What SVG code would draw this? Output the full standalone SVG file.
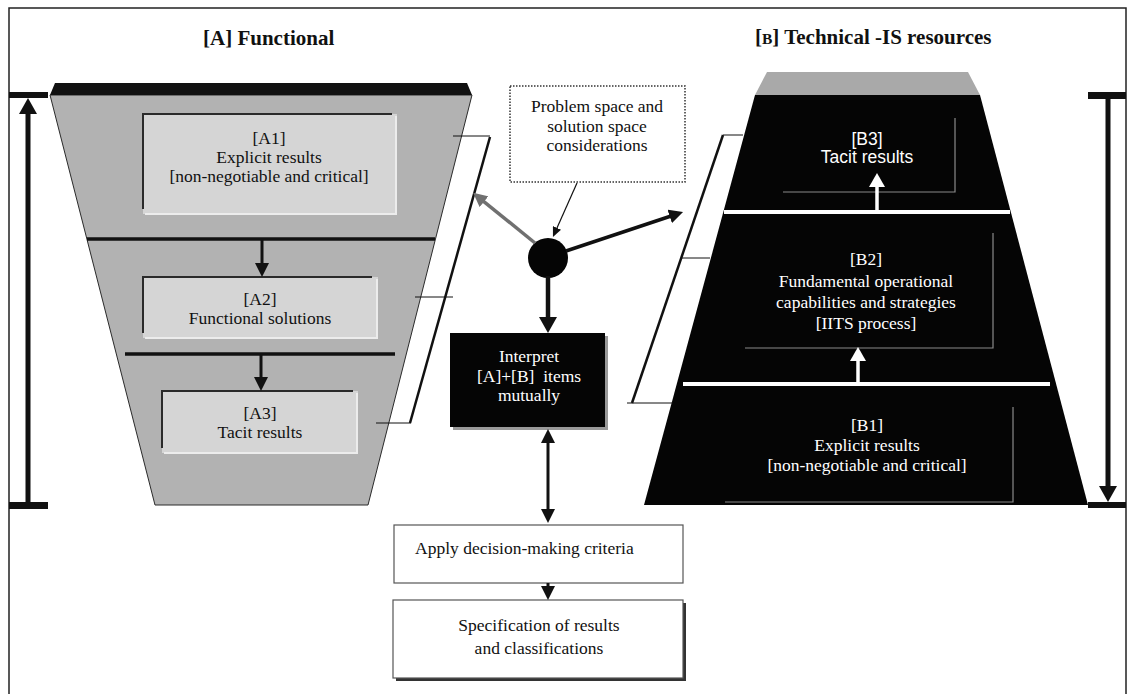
<svg xmlns="http://www.w3.org/2000/svg" width="1128" height="694" viewBox="0 0 1128 694">
  <style>
    .serif { font-family: "Liberation Serif", "Times New Roman", serif; font-size: 17.5px; fill: #111; }
    .sans { font-family: "Liberation Sans", Arial, sans-serif; font-size: 17.5px; }
    .title { font-family: "Liberation Serif", "Times New Roman", serif; font-size: 21px; font-weight: bold; fill: #111; }
    .white { fill: #fff; }
    .mid { text-anchor: middle; }
    .funnel { fill: #b2b2b2; stroke: #2a2a2a; stroke-width: 1; }
    .abox { fill: #d5d5d5; }
    .edgeDark { fill: none; stroke: #2a2a2a; stroke-width: 2; }
    .edgeLight { fill: none; stroke: #ececec; stroke-width: 2; }
    .bline { fill: none; stroke: #8a8a8a; stroke-width: 1.2; }
    .sep { stroke: #111; stroke-width: 3.5; }
    .wsep { stroke: #fff; stroke-width: 4; }
    .tick { stroke: #111; stroke-width: 1; }
    .diag { stroke: #111; stroke-width: 2.5; }
    .bar { fill: #111; }
    .conn { fill: none; stroke: #111; }
  </style>
  <defs>
    <marker id="ahL" viewBox="0 0 16 18" refX="4" refY="9" markerWidth="16" markerHeight="18" markerUnits="userSpaceOnUse" orient="auto">
      <path d="M0,0 L16,9 L0,18 z" fill="#111"/>
    </marker>
    <marker id="ah" viewBox="0 0 14 14" refX="3" refY="7" markerWidth="14" markerHeight="14" markerUnits="userSpaceOnUse" orient="auto-start-reverse">
      <path d="M0,0 L14,7 L0,14 z" fill="#111"/>
    </marker>
    <marker id="ahG" viewBox="0 0 14 14" refX="3" refY="7" markerWidth="14" markerHeight="14" markerUnits="userSpaceOnUse" orient="auto">
      <path d="M0,0 L14,7 L0,14 z" fill="#707070"/>
    </marker>
    <marker id="ahW" viewBox="0 0 14 16" refX="3" refY="8" markerWidth="14" markerHeight="16" markerUnits="userSpaceOnUse" orient="auto">
      <path d="M0,0 L14,8 L0,16 z" fill="#fff"/>
    </marker>
    <marker id="ahS" viewBox="0 0 10 9" refX="2" refY="4.5" markerWidth="10" markerHeight="9" markerUnits="userSpaceOnUse" orient="auto">
      <path d="M0,0 L10,4.5 L0,9 z" fill="#111"/>
    </marker>
  </defs>

  <rect width="1128" height="694" fill="#fff"/>
  <!-- outer frame -->
  <path d="M9,694 V8 H1126 V694" fill="none" stroke="#222" stroke-width="1.5"/>

  <!-- column titles -->
  <text class="title" x="203" y="45">[A] Functional</text>
  <text class="title" x="755" y="44">[<tspan font-size="15.5">B</tspan>] Technical -IS resources</text>

  <!-- [A] functional funnel -->
  <g id="funnelA">
    <polygon class="funnel" points="50,95 472,95 368,505 155,505"/>
    <polygon points="55,83 467,83 472,95 50,95" fill="#111"/>
    <line class="sep" x1="87" y1="239" x2="435" y2="239"/>
    <line class="sep" x1="125" y1="354" x2="395" y2="354"/>
  </g>

  <g id="A1">
    <rect class="abox" x="143" y="114" width="254" height="100"/>
    <path class="edgeLight" d="M396,116 V214 H145"/>
    <path class="edgeDark" d="M143,209 V114 H392"/>
    <text class="serif mid" x="269" y="144">[A1]</text>
    <text class="serif mid" x="269" y="163">Explicit results</text>
    <text class="serif mid" x="269" y="182">[non-negotiable and critical]</text>
  </g>
  <g id="A2">
    <rect class="abox" x="143" y="277" width="235" height="61"/>
    <path class="edgeLight" d="M377,279 V338 H145"/>
    <path class="edgeDark" d="M143,333 V277 H372"/>
    <text class="serif mid" x="260" y="305">[A2]</text>
    <text class="serif mid" x="260" y="324">Functional solutions</text>
  </g>
  <g id="A3">
    <rect class="abox" x="162" y="391" width="196" height="62"/>
    <path class="edgeLight" d="M357,393 V453 H164"/>
    <path class="edgeDark" d="M162,448 V391 H353"/>
    <text class="serif mid" x="260" y="419">[A3]</text>
    <text class="serif mid" x="260" y="438">Tacit results</text>
  </g>

  <!-- [B] technical pyramid -->
  <g id="pyramidB">
    <polygon points="767,72 968,72 980,95 755,95" fill="#a9a9a9"/>
    <polygon points="755,95 980,95 1088,505 644,505" fill="#050505"/>
    <line class="wsep" x1="724" y1="212" x2="1010" y2="212"/>
    <line class="wsep" x1="683" y1="384" x2="1050" y2="384"/>
  </g>

  <g id="B3">
    <path class="bline" d="M955,118 V192 H783"/>
    <text class="sans white mid" x="867" y="145">[B3]</text>
    <text class="sans white mid" x="867" y="163">Tacit results</text>
  </g>
  <g id="B2">
    <path class="bline" d="M993,233 V348 H745"/>
    <text class="serif white mid" x="866" y="265">[B2]</text>
    <text class="serif white mid" x="866" y="287">Fundamental operational</text>
    <text class="serif white mid" x="866" y="308">capabilities and strategies</text>
    <text class="serif white mid" x="866" y="329">[IITS process]</text>
  </g>
  <g id="B1">
    <path class="bline" d="M1013,407 V502 H725"/>
    <text class="serif white mid" x="867" y="431">[B1]</text>
    <text class="serif white mid" x="867" y="451">Explicit results</text>
    <text class="serif white mid" x="867" y="471">[non-negotiable and critical]</text>
  </g>

  <!-- scope brackets beside each stack -->
  <g id="bracketA">
    <line class="tick" x1="453" y1="136" x2="490" y2="136"/>
    <line class="tick" x1="415" y1="297" x2="453" y2="297"/>
    <line class="tick" x1="376" y1="423" x2="411" y2="423"/>
    <line class="diag" x1="490" y1="137" x2="410" y2="423"/>
  </g>
  <g id="bracketB">
    <line class="tick" x1="723" y1="135" x2="743" y2="135"/>
    <line class="tick" x1="681" y1="258" x2="710" y2="258"/>
    <line class="tick" x1="627" y1="403" x2="673" y2="403"/>
    <line class="diag" x1="723" y1="135" x2="632" y2="403"/>
  </g>

  <!-- range bars on both sides -->
  <g id="rangeA">
    <rect class="bar" x="9" y="92" width="39" height="6"/>
    <rect class="bar" x="9" y="502" width="39" height="7"/>
  </g>
  <g id="rangeB">
    <rect class="bar" x="1088" y="92" width="38" height="7"/>
    <rect class="bar" x="1088" y="502" width="38" height="6"/>
  </g>

  <g id="considerations">
    <rect x="510" y="86" width="175" height="96" fill="#fff" stroke="#333" stroke-width="1.5" stroke-dasharray="1.5 1.5"/>
    <text class="serif mid" x="597" y="112">Problem space and</text>
    <text class="serif mid" x="597" y="132">solution space</text>
    <text class="serif mid" x="597" y="151">considerations</text>
  </g>

  <g id="hub">
    <circle cx="548" cy="258" r="20" fill="#050505"/>
  </g>

  <g id="interpret">
    <rect x="453" y="336" width="155" height="94" fill="#9a9a9a"/>
    <rect x="450" y="333" width="155" height="94" fill="#050505"/>
    <text class="serif white mid" x="529" y="362">Interpret</text>
    <text class="serif white mid" x="529" y="382" xml:space="preserve">[A]+[B]  items</text>
    <text class="serif white mid" x="529" y="401">mutually</text>
  </g>

  <g id="apply">
    <rect x="394" y="525" width="289" height="58" fill="#fff" stroke="#555" stroke-width="1.2"/>
    <text class="serif" x="415" y="554">Apply decision-making criteria</text>
  </g>

  <g id="specification">
    <rect x="396" y="603" width="290" height="78" fill="#333"/>
    <rect x="393" y="600" width="290" height="78" fill="#fff" stroke="#555" stroke-width="1.2"/>
    <text class="serif mid" x="539" y="631">Specification of results</text>
    <text class="serif mid" x="539" y="654">and classifications</text>
  </g>

  <!-- connectors -->
  <g id="connectors">
    <line class="conn" x1="28" y1="502" x2="28" y2="110" stroke-width="5" marker-end="url(#ahL)"/>
    <line class="conn" x1="1108" y1="98" x2="1108" y2="490" stroke-width="5" marker-end="url(#ahL)"/>
    <line class="conn" x1="262" y1="240" x2="262" y2="266" stroke-width="3" marker-end="url(#ah)"/>
    <line class="conn" x1="261" y1="355" x2="261" y2="380" stroke-width="3" marker-end="url(#ah)"/>
    <line class="conn" x1="548" y1="276" x2="548" y2="321" stroke-width="4.5" marker-end="url(#ahL)"/>
    <line class="conn" x1="566" y1="251" x2="672.6" y2="215.5" stroke-width="3.5" marker-end="url(#ah)"/>
    <line x1="535" y1="243" x2="481.7" y2="199.8" stroke="#707070" stroke-width="3.5" marker-end="url(#ahG)"/>
    <line class="conn" x1="577" y1="183" x2="556.2" y2="229.7" stroke-width="1.2" marker-end="url(#ahS)"/>
    <line class="conn" x1="548" y1="440" x2="548" y2="512" stroke-width="3" marker-start="url(#ah)" marker-end="url(#ah)"/>
    <line class="conn" x1="548" y1="583" x2="548" y2="589" stroke-width="3" marker-end="url(#ah)"/>
    <line x1="877" y1="210" x2="877" y2="184" stroke="#fff" stroke-width="3.5" marker-end="url(#ahW)"/>
    <line x1="858" y1="382" x2="858" y2="358" stroke="#fff" stroke-width="3.5" marker-end="url(#ahW)"/>
  </g>
</svg>
